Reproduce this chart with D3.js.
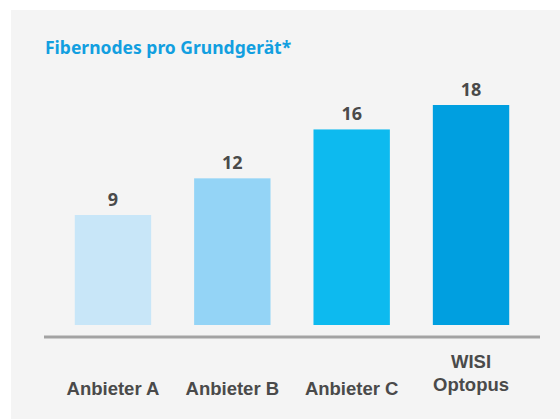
<!DOCTYPE html>
<html>
<head>
<meta charset="utf-8">
<script src="https://cdn.jsdelivr.net/npm/d3@7"></script>
<style>
  body { margin: 0; background: #fff; }
  svg { display: block; font-family: "Noto Sans", "Open Sans", sans-serif; }
</style>
</head>
<body>
<svg id="chart" width="560" height="419"></svg>
<script>
var categories = ["Anbieter A", "Anbieter B", "Anbieter C", "WISI\nOptopus"];
var values = [9, 12, 16, 18];
var barColors = ["#c8e6f8", "#94d4f6", "#0dbaef", "#009fe0"];
var title = "Fibernodes pro Grundgerät*";

var svg = d3.select("#chart");

// grey panel
svg.append("rect")
	.attr("x", 11).attr("y", 10)
	.attr("width", 549).attr("height", 409)
	.attr("fill", "#f4f4f4");

svg.append("text")
	.attr("x", 45).attr("y", 54)
	.attr("fill", "#129fe0")
	.attr("font-size", 17.5)
	.attr("font-weight", 700)
	.text(title);

var x = d3.scaleBand()
	.domain(categories)
	.range([53.3, 530.7])
	.paddingInner(0.36)
	.paddingOuter(0.18);

var y = d3.scaleLinear()
	.domain([0, 18])
	.range([325, 105]);

var g = svg.append("g");

g.selectAll("rect.bar")
	.data(values)
	.enter().append("rect")
	.attr("class", "bar")
	.attr("x", function(d, i) { return x(categories[i]); })
	.attr("y", function(d) { return y(d); })
	.attr("width", x.bandwidth())
	.attr("height", function(d) { return y(0) - y(d); })
	.attr("fill", function(d, i) { return barColors[i]; });

g.selectAll("text.val")
	.data(values)
	.enter().append("text")
	.attr("class", "val")
	.attr("x", function(d, i) { return x(categories[i]) + x.bandwidth() / 2; })
	.attr("y", function(d) { return y(d) - 9; })
	.attr("text-anchor", "middle")
	.attr("fill", "#4a4a4a")
	.attr("font-size", 18)
	.attr("font-weight", 700)
	.text(function(d) { return d; });

// baseline
svg.append("line")
	.attr("x1", 44).attr("x2", 540)
	.attr("y1", 337).attr("y2", 337)
	.attr("stroke", "#a3a3a3")
	.attr("stroke-width", 3);

// category labels via axis
var xAxis = d3.axisBottom(x).tickSize(0).tickFormat("");
var ax = svg.append("g")
	.attr("transform", "translate(0,337)")
	.call(xAxis);
ax.select(".domain").remove();

ax.selectAll(".tick").each(function(d) {
	var lines = d.split("\n");
	var t = d3.select(this).append("text")
		.attr("text-anchor", "middle")
		.attr("fill", "#4a4a4a")
		.attr("font-size", 18.5)
		.attr("font-weight", 700);
	var firstY = lines.length > 1 ? 31 : 58;
	lines.forEach(function(l, i) {
		t.append("tspan")
			.attr("x", 0)
			.attr("y", firstY + i * 23)
			.text(l);
	});
});
</script>
</body>
</html>
